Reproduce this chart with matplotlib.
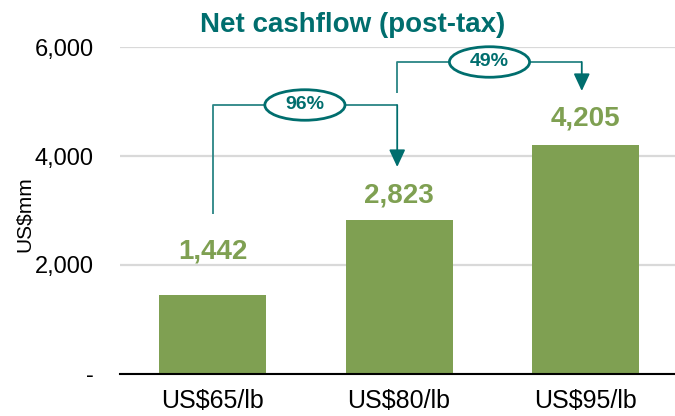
import matplotlib
matplotlib.use("Agg")
import matplotlib.pyplot as plt
from matplotlib.patches import Ellipse

# chart data
categories = ["US$65/lb", "US$80/lb", "US$95/lb"]
cashflow = [1442, 2823, 4205]
y_ticks = [0, 2000, 4000, 6000]
y_tick_labels = ["-", "2,000", "4,000", "6,000"]
growth_labels = ["96%", "49%"]

teal = "#006E6E"
teal_line = "#2A8585"
green = "#7FA052"

plt.rcParams["font.family"] = ["Liberation Sans", "DejaVu Sans"]

fig = plt.figure(figsize=(6.75, 4.16), dpi=100)
ax = fig.add_axes((0.178, 0.101, 0.822, 0.786))

x = list(range(len(categories)))
ax.bar(x, cashflow, width=0.574, color=green, zorder=2)

ax.set_xlim(-0.496, 2.48)
ax.set_ylim(0, 6000)
ax.set_yticks(y_ticks)
ax.set_yticklabels(y_tick_labels, fontsize=17)
ax.set_xticks(x)
ax.set_xticklabels(categories, fontsize=18)
ax.tick_params(axis="y", length=0, pad=19)
ax.tick_params(axis="x", length=0, pad=11)
ax.yaxis.grid(True, color="#D9D9D9", linewidth=1.6, zorder=0)
ax.set_axisbelow(True)
for side in ("top", "right", "left"):
    ax.spines[side].set_visible(False)
ax.spines["bottom"].set_linewidth(1.5)
ax.spines["bottom"].set_zorder(3)

ax.set_ylabel("US$mm", fontsize=15)
ax.yaxis.set_label_coords(-0.155, 0.49)

# value labels above bars
label_gap = [800, 450, 480]
for xi, v, g in zip(x, cashflow, label_gap):
    ax.text(xi, v + g, f"{v:,}", ha="center", va="center",
            fontsize=20, fontweight="bold", color=green)

# growth brackets: (start x, start y, level, end x, arrow tip y)
brackets = [
    (0.0, cashflow[0] + 1494, 4936, 0.99, cashflow[1] + 975),
    (0.99, 5156, 5725, 1.98, cashflow[2] + 988),
]
for (x0, y0, lvl, x1, tip), lab in zip(brackets, growth_labels):
    ax.plot([x0, x0, x1], [y0, lvl, lvl], color=teal_line, lw=1.3,
            clip_on=False, zorder=4, solid_capstyle="butt")
    ax.annotate("", xy=(x1, tip), xytext=(x1, lvl),
                arrowprops=dict(arrowstyle="-|>,head_length=0.75,head_width=0.35",
                                mutation_scale=14, color=teal, lw=1.3,
                                shrinkA=0, shrinkB=0),
                annotation_clip=False, zorder=4)
    cx = (x0 + x1) / 2
    ax.add_patch(Ellipse((cx, lvl), width=0.43, height=560, facecolor="white",
                         edgecolor=teal, lw=2, clip_on=False, zorder=5))
    ax.text(cx, lvl, lab, ha="center", va="center", fontsize=14,
            fontweight="bold", color=teal, zorder=6)

fig.text(0.523, 0.94, "Net cashflow (post-tax)", ha="center", va="center",
         fontsize=20, fontweight="bold", color=teal)

fig.savefig("out.png", dpi=100)
